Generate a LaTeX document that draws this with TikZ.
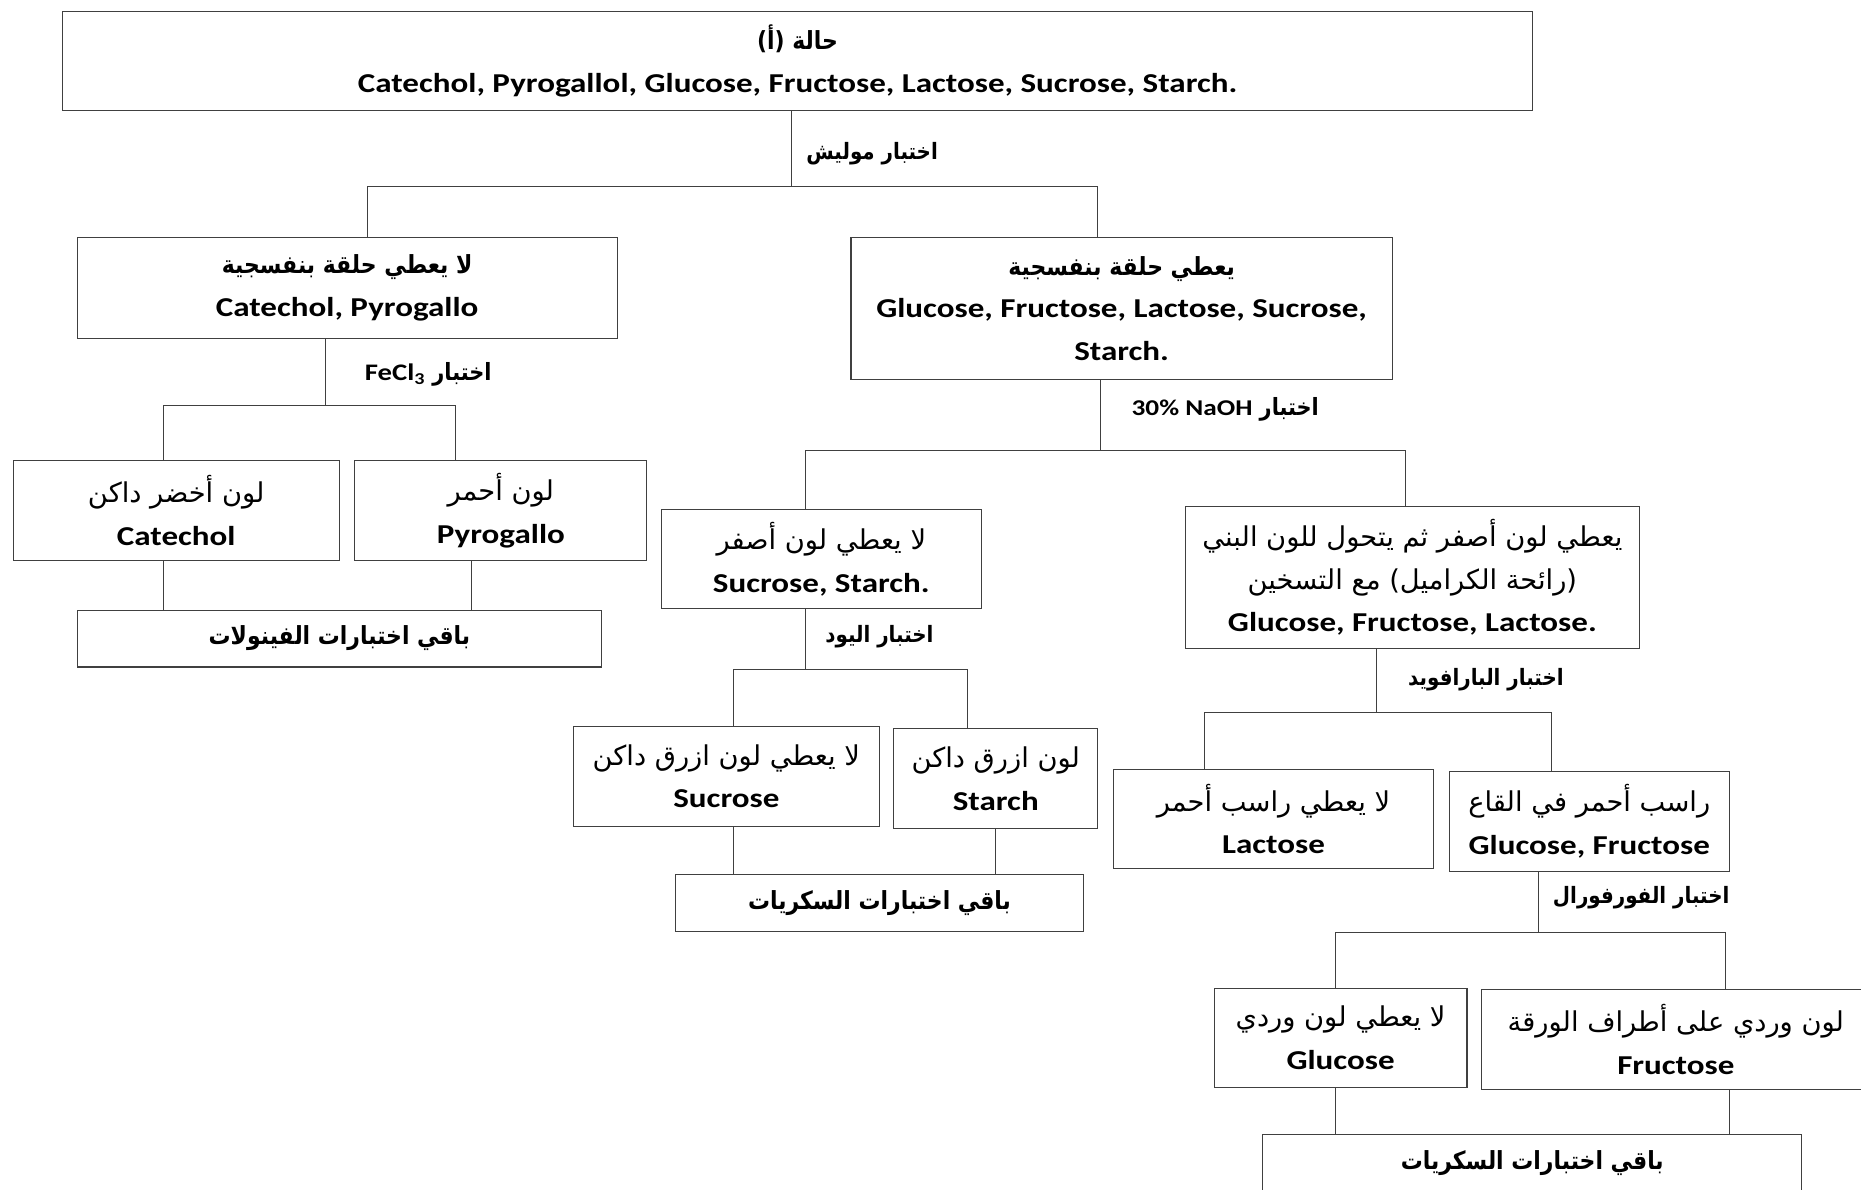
\documentclass[tikz,border=0pt]{standalone}
\usepackage{fontspec}
\setmainfont{Carlito}[FakeStretch=1.21]
\newfontfamily\latfont{Carlito}[FakeStretch=1.21]
\newfontfamily\arabicfont[Script=Arabic]{DejaVu Sans}
\newfontfamily\arabicbf[Script=Arabic, FakeStretch=0.88]{DejaVu Sans}
\TeXXeTstate=1
\newcommand{\arhead}[1]{{\arabicbf\bfseries\fontsize{21}{36}\selectfont\beginR #1\endR}}
\newcommand{\arbold}[1]{{\arabicbf\bfseries\beginR #1\endR}}
\newcommand{\arreg}[1]{{\arabicfont\mdseries\beginR #1\endR}}
\begin{document}
\begin{tikzpicture}[x=1pt, y=-1pt,
    box/.style={draw=black!75, line width=0.9pt, inner sep=0pt, align=center,
        font=\fontsize{23}{36}\selectfont\bfseries},
    link/.style={draw=black!75, line width=0.9pt},
    testlbl/.style={anchor=west, inner sep=0pt, font=\fontsize{19}{20}\selectfont\bfseries}]
    \useasboundingbox (0,0) rectangle (1568,1002);
    % Boites
    \node[box, minimum width=1238pt, minimum height=83pt] (top) at (672,51.5)
        {\arhead{حالة (أ)}\\Catechol, Pyrogallol, Glucose, Fructose, Lactose, Sucrose, Starch.};
    \node[box, minimum width=455pt, minimum height=85pt] (noring) at (292.5,242.5)
        {\arhead{لا يعطي حلقة بنفسجية}\\Catechol, Pyrogallo};
    \node[box, minimum width=456pt, minimum height=120pt] (ring) at (945,260)
        {\arhead{يعطي حلقة بنفسجية}\\Glucose, Fructose, Lactose, Sucrose,\\Starch.};
    \node[box, minimum width=275pt, minimum height=84pt] (catechol) at (148.5,430)
        {\arreg{لون أخضر داكن}\\Catechol};
    \node[box, minimum width=246pt, minimum height=84pt] (pyro) at (422,430)
        {\arreg{لون أحمر}\\Pyrogallo};
    \node[box, minimum width=442pt, minimum height=48pt] (phenols) at (286,538)
        {\arhead{باقي اختبارات الفينولات}};
    \node[box, minimum width=270pt, minimum height=84pt] (noyellow) at (692,471)
        {\arreg{لا يعطي لون أصفر}\\Sucrose, Starch.};
    \node[box, minimum width=382pt, minimum height=119pt] (yellow) at (1190,486.5)
        {\arreg{يعطي لون أصفر ثم يتحول للون البني}\\\arreg{(رائحة الكراميل) مع التسخين}\\Glucose, Fructose, Lactose.};
    \node[box, minimum width=258pt, minimum height=84pt] (sucrose) at (612,654)
        {\arreg{لا يعطي لون ازرق داكن}\\Sucrose};
    \node[box, minimum width=172pt, minimum height=84pt] (starch) at (839,656)
        {\arreg{لون ازرق داكن}\\Starch};
    \node[box, minimum width=344pt, minimum height=48pt] (sugarsA) at (741,761)
        {\arhead{باقي اختبارات السكريات}};
    \node[box, minimum width=270pt, minimum height=84pt] (lactose) at (1073,690)
        {\arreg{لا يعطي راسب أحمر}\\Lactose};
    \node[box, minimum width=236pt, minimum height=84pt] (redppt) at (1339,692)
        {\arreg{راسب أحمر في القاع}\\Glucose, Fructose};
    \node[box, minimum width=213pt, minimum height=83pt] (glucose) at (1129.5,874.5)
        {\arreg{لا يعطي لون وردي}\\Glucose};
    \node[box, minimum width=328pt, minimum height=84pt] (fructose) at (1412,876)
        {\arreg{لون وردي على أطراف الورقة}\\Fructose};
    \node[box, minimum width=454pt, minimum height=48pt] (sugarsB) at (1291,980)
        {\arhead{باقي اختبارات السكريات}};
    % Molisch
    \draw[link] ([xshift=-5]top.south) -- ++(0,64)
        node[testlbl, pos=0.56, xshift=12] (molisch) {\arbold{اختبار موليش}} coordinate (j1);
    \draw[link] (j1) -| ([xshift=17.5]noring.north);
    \draw[link] (j1) -| ([xshift=-20]ring.north);
    % FeCl3
    \draw[link] ([xshift=-18.5]noring.south) -- ++(0,56)
        node[testlbl, pos=0.54, xshift=33] (fecl) {{\arabicbf\fontsize{20}{20}\selectfont\beginR اختبار \beginL\latfont\fontsize{20}{20}\selectfont FeCl\textsubscript{3}\endL\endR}} coordinate (j2);
    \draw[link] (j2) -| ([xshift=-10.5]catechol.north);
    \draw[link] (j2) -| ([xshift=-38]pyro.north);
    \draw[link] ([xshift=-10.5]catechol.south) coordinate (k1) -- (k1 |- phenols.north);
    \draw[link] ([xshift=-25]pyro.south) coordinate (k2) -- (k2 |- phenols.north);
    % NaOH
    \draw[link] ([xshift=-18]ring.south) -- ++(0,59)
        node[testlbl, pos=0.41, xshift=26] (naoh) {{\arabicbf\fontsize{20}{20}\selectfont\beginR اختبار \beginL\latfont\fontsize{19}{20}\selectfont 30\% NaOH\endL\endR}} coordinate (j3);
    \draw[link] (j3) -| ([xshift=-13]noyellow.north);
    \draw[link] (j3) -| ([xshift=-6]yellow.north);
    % Iode
    \draw[link] ([xshift=-13]noyellow.south) -- ++(0,51)
        node[testlbl, pos=0.45, xshift=16] (iodine) {\arbold{اختبار اليود}} coordinate (j4);
    \draw[link] (j4) -| ([xshift=6]sucrose.north);
    \draw[link] (j4) -| ([xshift=-24]starch.north);
    \draw[link] ([xshift=6]sucrose.south) coordinate (k3) -- (k3 |- sugarsA.north);
    \draw[link] (starch.south) -- (starch.south |- sugarsA.north);
    % Barfoed
    \draw[link] ([xshift=-30]yellow.south) -- ++(0,54)
        node[testlbl, pos=0.48, xshift=26] (barfoed) {\arbold{اختبار البارافويد}} coordinate (j5);
    \draw[link] (j5) -| ([xshift=-58]lactose.north);
    \draw[link] (j5) -| ([xshift=-32]redppt.north);
    % Furfural
    \draw[link] ([xshift=-43]redppt.south) -- ++(0,51)
        node[testlbl, pos=0.43, xshift=12] (furfural) {\arbold{اختبار الفورفورال}} coordinate (j6);
    \draw[link] (j6) -| ([xshift=-4.5]glucose.north);
    \draw[link] (j6) -| ([xshift=42]fructose.north);
    \draw[link] ([xshift=-4.5]glucose.south) coordinate (k4) -- (k4 |- sugarsB.north);
    \draw[link] ([xshift=45]fructose.south) coordinate (k5) -- (k5 |- sugarsB.north);
\end{tikzpicture}
\end{document}
